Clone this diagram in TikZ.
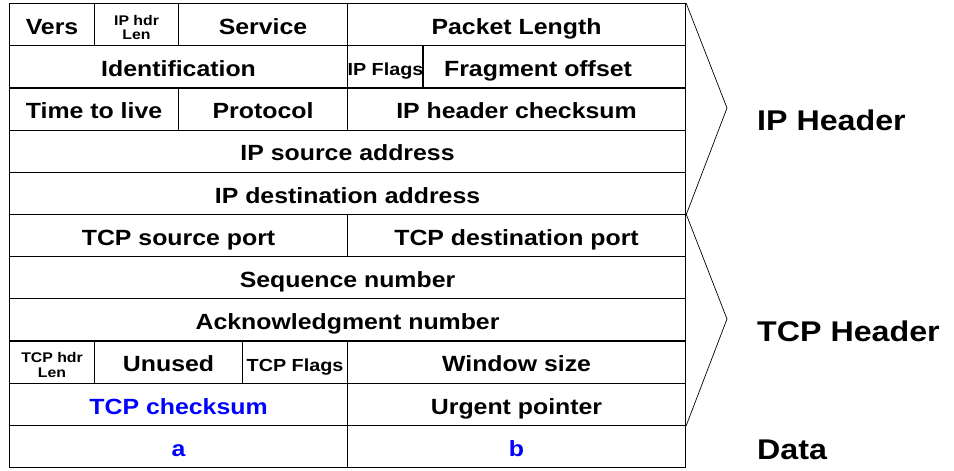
\documentclass[tikz,border=0pt]{standalone}
\usepackage{fontspec}
\setmainfont{Liberation Sans}[FakeStretch=1.13]
\definecolor{netblue}{RGB}{0,0,255}
\begin{document}
\begin{tikzpicture}[x=1pt,y=-1pt]
\tikzset{
  cell/.style={draw=black, line width=1.1pt, inner sep=0pt, anchor=north west,
    minimum height=42.2pt, text height=19.5pt, text depth=0pt,
    font=\bfseries\fontsize{22}{24}\selectfont},
  small/.style={inner sep=0pt, font=\bfseries\fontsize{14}{14.5}\selectfont, align=center},
  mid/.style={font=\bfseries\fontsize{17.5}{19}\selectfont, text height=18pt},
  hot/.style={text=netblue},
  brace/.style={draw=black, line width=0.7pt},
  side/.style={anchor=west, inner sep=0pt, font=\bfseries\fontsize{28.5}{30}\selectfont},
}
\useasboundingbox (0,0) rectangle (954,471);

% IP header
\node[cell, minimum width=85pt]  (vers)   at (9,3)    {Vers};
\node[cell, minimum width=84pt]  (iphl)   at (94,3)   {};
\node[small] (iphltxt) at ([yshift=-3pt]iphl.center) {IP hdr\\Len};
\node[cell, minimum width=169pt] (serv)   at (178,3)  {Service};
\node[cell, minimum width=338pt] (plen)   at (347,3)  {Packet Length};

\node[cell, minimum width=338pt] (ident)  at (9,45.2)   {Identification};
\node[cell, minimum width=75pt, mid] (ipfl) at (347,45.2) {IP Flags};
\node[cell, minimum width=263pt] (frag)   at (422,45.2) {\hspace*{-32pt}Fragment offset};

\node[cell, minimum width=169pt] (ttl)    at (9,87.4)   {Time to live};
\node[cell, minimum width=169pt] (proto)  at (178,87.4) {Protocol};
\node[cell, minimum width=338pt] (ipck)   at (347,87.4) {IP header checksum};

\node[cell, minimum width=676pt] (ipsrc)  at (9,129.5)  {IP source address};
\node[cell, minimum width=676pt] (ipdst)  at (9,171.7)  {IP destination address};

% TCP header
\node[cell, minimum width=338pt] (tcpsrc) at (9,213.9)   {TCP source port};
\node[cell, minimum width=338pt] (tcpdst) at (347,213.9) {TCP destination port};

\node[cell, minimum width=676pt] (seq)    at (9,256.1)  {Sequence number};
\node[cell, minimum width=676pt] (ack)    at (9,298.3)  {Acknowledgment number};

\node[cell, minimum width=85pt]  (tcphl)  at (9,340.4)   {};
\node[small] (tcphltxt) at ([yshift=-3pt]tcphl.center) {TCP hdr\\Len};
\node[cell, minimum width=148pt] (unused) at (94,340.4)  {Unused};
\node[cell, minimum width=105pt, mid] (tcpfl) at (242,340.4) {TCP Flags};
\node[cell, minimum width=338pt] (win)    at (347,340.4) {Window size};

\node[cell, minimum width=338pt, hot] (tcpck) at (9,382.6) {TCP checksum};
\node[cell, minimum width=338pt] (urg)    at (347,382.6) {Urgent pointer};

% data
\node[cell, minimum width=338pt, hot] (da) at (9,424.8)   {a};
\node[cell, minimum width=338pt, hot] (db) at (347,424.8) {b};

% grouping chevrons
\coordinate (iptip)  at (727,108);
\coordinate (tcptip) at (727,319);
\draw[brace] (plen.north east) -- (iptip) -- (ipdst.south east);
\draw[brace] (tcpdst.north east) -- (tcptip) -- (urg.south east);

% group labels
\node[side] (iplab)  at (757,120) {IP Header};
\node[side] (tcplab) at (757,331) {TCP Header};
\node[side] (datlab) at (757,450) {Data};
\end{tikzpicture}
\end{document}
